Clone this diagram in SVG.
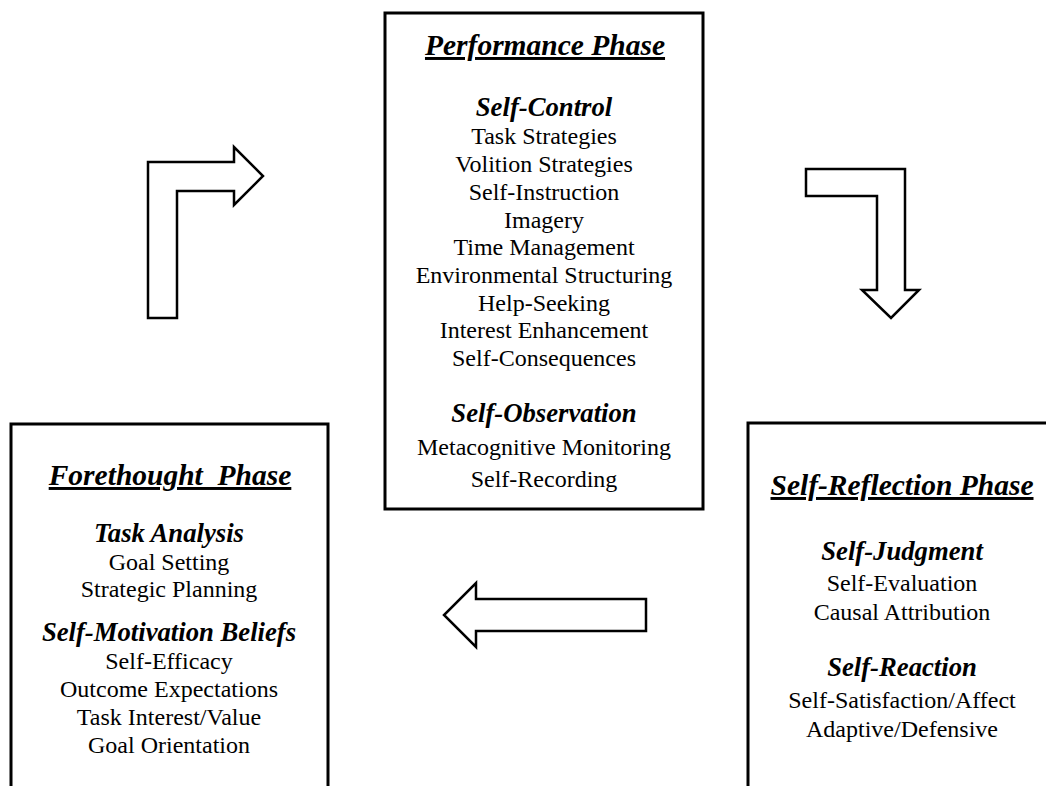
<svg xmlns="http://www.w3.org/2000/svg" width="1046" height="786" viewBox="0 0 1046 786">
<style>
.box{fill:#fff;stroke:#000;stroke-width:3}
.arr{fill:#fff;stroke:#000;stroke-width:2.5;stroke-linejoin:miter}
text{font-family:"Liberation Serif","Times New Roman",serif;fill:#000;text-anchor:middle}
.t{font-size:29.5px;font-weight:bold;font-style:italic;text-decoration:underline}
.h{font-size:26.7px;font-weight:bold;font-style:italic}
.b{font-size:24px}
</style>
<rect width="1046" height="786" fill="#fff"/>
<g id="connectors">
<path class="arr" d="M148,318 L148,162 L234,162 L234,147 L263,176 L234,205 L234,191 L177,191 L177,318 Z"/>
<path class="arr" d="M806,169 L905,169 L905,290 L919,290 L891,318 L862,290 L877,290 L877,196 L806,196 Z"/>
<path class="arr" d="M646,599 L476,599 L476,583 L444,615 L476,647 L476,631 L646,631 Z"/>
</g>
<g id="performance">
<rect class="box" x="385" y="13" width="318" height="496"/>
<text class="t" x="545" y="55">Performance Phase</text>
<text class="h" x="544" y="116">Self-Control</text>
<text class="b" x="544" y="144">Task Strategies</text>
<text class="b" x="544" y="172">Volition Strategies</text>
<text class="b" x="544" y="200">Self-Instruction</text>
<text class="b" x="544" y="228">Imagery</text>
<text class="b" x="544" y="255">Time Management</text>
<text class="b" x="544" y="283">Environmental Structuring</text>
<text class="b" x="544" y="311">Help-Seeking</text>
<text class="b" x="544" y="338">Interest Enhancement</text>
<text class="b" x="544" y="366">Self-Consequences</text>
<text class="h" x="544" y="422">Self-Observation</text>
<text class="b" x="544" y="455">Metacognitive Monitoring</text>
<text class="b" x="544" y="487">Self-Recording</text>
</g>
<g id="forethought">
<path class="box" d="M11,790 L11,424 L328,424 L328,790"/>
<text class="t" x="170" y="485" xml:space="preserve">Forethought  Phase</text>
<text class="h" x="169" y="542">Task Analysis</text>
<text class="b" x="169" y="570">Goal Setting</text>
<text class="b" x="169" y="597">Strategic Planning</text>
<text class="h" x="169" y="641">Self-Motivation Beliefs</text>
<text class="b" x="169" y="669">Self-Efficacy</text>
<text class="b" x="169" y="697">Outcome Expectations</text>
<text class="b" x="169" y="725">Task Interest/Value</text>
<text class="b" x="169" y="753">Goal Orientation</text>
</g>
<g id="selfreflection">
<path class="box" d="M1050,423 L748,423 L748,790"/>
<text class="t" x="902" y="495">Self-Reflection Phase</text>
<text class="h" x="902" y="560">Self-Judgment</text>
<text class="b" x="902" y="591">Self-Evaluation</text>
<text class="b" x="902" y="620">Causal Attribution</text>
<text class="h" x="902" y="676">Self-Reaction</text>
<text class="b" x="902" y="708">Self-Satisfaction/Affect</text>
<text class="b" x="902" y="737">Adaptive/Defensive</text>
</g>
</svg>
